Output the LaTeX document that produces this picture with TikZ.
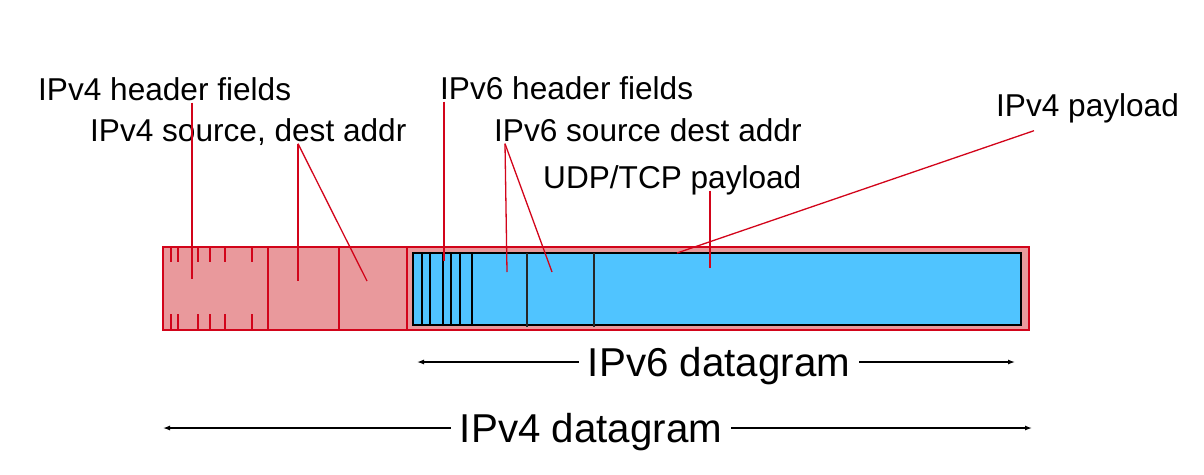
\documentclass[tikz,border=0pt]{standalone}
\usepackage{fontspec}
\setmainfont{Liberation Sans}
\usepackage{tikz}
\usetikzlibrary{calc}
\usetikzlibrary{arrows.meta}

\begin{document}
\begin{tikzpicture}[x=1pt, y=-1pt, >={Latex[length=7pt,width=5pt]},
    lbl/.style={anchor=base west, inner sep=0pt, text depth=0.25em,
                font=\fontsize{31.6}{36}\selectfont},
    biglbl/.style={inner sep=9pt, text height=29pt, text depth=0pt,
                   font=\fontsize{40.3}{46}\selectfont},
    ptr/.style={ptrRed, line width=1.3pt},
    dim/.style={->, black, line width=1.3pt}]

% ---------------------------------------------------------------------------
% Color aliases
% ---------------------------------------------------------------------------
\definecolor{ptrRed}{RGB}{210,4,26}
\definecolor{v4Fill}{RGB}{233,153,156}
\definecolor{v6Fill}{RGB}{80,196,255}

\useasboundingbox (0,0) rectangle (1204,474);

% ---------------------------------------------------------------------------
% IPv4 datagram (outer red box)
% ---------------------------------------------------------------------------
\draw[ptrRed, line width=1.6pt, fill=v4Fill] (163,247) rectangle (1029,330);

% header field ticks, top and bottom
\foreach \hx in {171, 178, 198, 210, 225, 252} {
    \draw[ptrRed, line width=1.5pt] (\hx,247) -- (\hx,262);
    \draw[ptrRed, line width=1.5pt] (\hx,314) -- (\hx,330);
}

% source / dest address fields
\foreach \hx in {268, 339} {
    \draw[ptrRed, line width=1.5pt] (\hx,247) -- (\hx,330);
}

% payload part carrying the IPv6 datagram
\draw[ptrRed, line width=1.6pt] (407,247) rectangle (1029,330);

% ---------------------------------------------------------------------------
% IPv6 datagram (inner blue box)
% ---------------------------------------------------------------------------
\draw[black, line width=2pt, fill=v6Fill] (413,253) rectangle (1021,325);

\foreach \hx in {422, 430, 443, 451, 460, 472} {
    \draw[black, line width=1.6pt] (\hx,253) -- (\hx,325);
}
\foreach \hx in {527, 594} {
    \draw[black!85, line width=1.1pt] (\hx,253) -- (\hx,327);
}

% ===========================================================================
%  LABELS AND POINTERS
% ===========================================================================
\node[lbl] (v4hdr)  at (38,100)  {IPv4 header fields};
\node[lbl] (v4addr) at (90,141)  {IPv4 source, dest addr};
\node[lbl] (v6hdr)  at (440,99)  {IPv6 header fields};
\node[lbl] (v6addr) at (494,141) {IPv6 source dest addr};
\node[lbl] (udptcp) at (543,188) {UDP/TCP payload};
\node[lbl] (v4pay)  at (996,116) {IPv4 payload};

\coordinate (v4hdrTip)  at (192,279);
\coordinate (v4srcTip)  at (298,281);
\coordinate (v4dstTip)  at (367,281);
\coordinate (v6hdrTip)  at (444,261);
\coordinate (v6srcTip)  at (507,272);
\coordinate (v6dstTip)  at (552,272);
\coordinate (udptcpTip) at (710,268);
\coordinate (v4payTip)  at (677,253);

\draw[ptr] (v4hdrTip |- v4hdr.south) -- (v4hdrTip);
\draw[ptr] (v4srcTip |- v4addr.south) -- (v4srcTip);
\draw[ptr] (v4srcTip |- v4addr.south) -- (v4dstTip);
\draw[ptr] (v6hdrTip |- v6hdr.south) -- (v6hdrTip);
\draw[ptr] ($(v6addr.south west)+(11,0)$) -- (v6srcTip);
\draw[ptr] ($(v6addr.south west)+(11,0)$) -- (v6dstTip);
\draw[ptr] (udptcpTip |- udptcp.south) -- (udptcpTip);
\draw[ptr] ($(v4pay.south west)+(38,12)$) -- (v4payTip);

% ---------------------------------------------------------------------------
% Datagram extents
% ---------------------------------------------------------------------------
\node[biglbl] (v6dg) at (719,362) {IPv6 datagram};
\coordinate (v6L) at (417,362);
\coordinate (v6R) at (1015,362);
\draw[dim] (v6dg) -- (v6L);
\draw[dim] (v6dg) -- (v6R);

\node[biglbl] (v4dg) at (591,428) {IPv4 datagram};
\coordinate (v4L) at (163,428);
\coordinate (v4R) at (1032,428);
\draw[dim] (v4dg) -- (v4L);
\draw[dim] (v4dg) -- (v4R);

\end{tikzpicture}
\end{document}
